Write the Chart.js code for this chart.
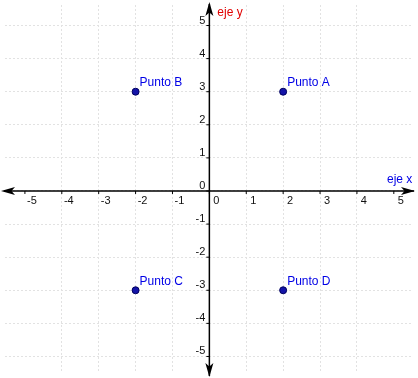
<!DOCTYPE html>
<html>
<head>
<meta charset="utf-8">
<script src="https://cdn.jsdelivr.net/npm/chart.js@4"></script>
<style>
  html, body { margin: 0; padding: 0; background: #fff; }
  #wrap { width: 418px; height: 378px; }
</style>
</head>
<body>
<div id="wrap"><canvas id="plano"></canvas></div>
<script>
// puntos del plano
const nombres = ['Punto A', 'Punto B', 'Punto C', 'Punto D'];
const puntosX = [2, -2, -2, 2];
const puntosY = [3, 3, -3, -3];

// marcas de los ejes
const ticksX = [-5, -4, -3, -2, -1, 0, 1, 2, 3, 4, 5];
const ticksY = [-5, -4, -3, -2, -1, 0, 1, 2, 3, 4, 5];
const etiquetasX = ['-5', '-4', '-3', '-2', '-1', '0', '1', '2', '3', '4', '5'];
const etiquetasY = ['-5', '-4', '-3', '-2', '-1', '0', '1', '2', '3', '4', '5'];

const tituloX = 'eje x';
const tituloY = 'eje y';

function arrow(ctx, x, y, dx, dy) {
  // triangle pointing in (dx, dy)
  const len = 14, half = 4;
  const px = -dy, py = dx;
  ctx.beginPath();
  ctx.moveTo(x, y);
  ctx.lineTo(x - dx * len + px * half, y - dy * len + py * half);
  ctx.lineTo(x - dx * len * 0.75, y - dy * len * 0.75);
  ctx.lineTo(x - dx * len - px * half, y - dy * len - py * half);
  ctx.closePath();
  ctx.fill();
}

const ejes = {
  id: 'ejes',
  beforeDatasetsDraw(chart) {
    const ctx = chart.ctx;
    const sx = chart.scales.x, sy = chart.scales.y;
    const ox = sx.getPixelForValue(0), oy = sy.getPixelForValue(0);
    const W = chart.width, H = chart.height;
    ctx.save();
    ctx.strokeStyle = '#000';
    ctx.fillStyle = '#000';
    ctx.lineWidth = 1.5;
    ctx.beginPath();
    ctx.moveTo(4, oy); ctx.lineTo(W - 4, oy);
    ctx.moveTo(ox, 4); ctx.lineTo(ox, H - 2);
    ctx.stroke();
    arrow(ctx, 1, oy, -1, 0);
    arrow(ctx, W - 3, oy, 1, 0);
    arrow(ctx, ox, 2, 0, -1);
    arrow(ctx, ox, H - 1, 0, 1);

    // marcas y numeros
    ctx.lineWidth = 1;
    ctx.font = '11px "Liberation Sans", Arial, sans-serif';
    ctx.fillStyle = '#111';
    ticksX.forEach((v, i) => {
      const x = sx.getPixelForValue(v);
      ctx.beginPath(); ctx.moveTo(x, oy); ctx.lineTo(x, oy + 3); ctx.stroke();
      ctx.textAlign = 'center'; ctx.textBaseline = 'middle';
      ctx.fillText(etiquetasX[i], x + 7, oy + 10);
    });
    ticksY.forEach((v, i) => {
      const y = sy.getPixelForValue(v);
      ctx.beginPath(); ctx.moveTo(ox - 3, y); ctx.lineTo(ox, y); ctx.stroke();
      ctx.textAlign = 'right'; ctx.textBaseline = 'middle';
      ctx.fillText(etiquetasY[i], ox - 4, y - 5);
    });

    ctx.font = '12px "Liberation Sans", Arial, sans-serif';
    ctx.textAlign = 'left';
    ctx.fillStyle = '#e00000';
    ctx.fillText(tituloY, ox + 8, 13);
    ctx.fillStyle = '#0000e6';
    ctx.fillText(tituloX, W - 31, oy - 11);
    ctx.restore();
  },
  afterDatasetsDraw(chart) {
    const ctx = chart.ctx;
    const meta = chart.getDatasetMeta(0);
    ctx.save();
    ctx.font = '12px "Liberation Sans", Arial, sans-serif';
    ctx.fillStyle = '#0000e6';
    ctx.textAlign = 'left';
    ctx.textBaseline = 'middle';
    meta.data.forEach((p, i) => {
      ctx.fillText(nombres[i], p.x + 4, p.y - 9);
    });
    ctx.restore();
  }
};

const soloEnteros = s => { s.ticks = s.ticks.filter(t => Number.isInteger(t.value)); };

new Chart(document.getElementById('plano'), {
  type: 'scatter',
  data: {
    datasets: [{
      data: puntosX.map((x, i) => ({ x: x, y: puntosY[i] })),
      backgroundColor: '#1414a8',
      borderColor: '#00005e',
      borderWidth: 1,
      pointRadius: 3.5
    }]
  },
  options: {
    responsive: true,
    maintainAspectRatio: false,
    animation: false,
    layout: { padding: 0 },
    plugins: { legend: { display: false }, tooltip: { enabled: false } },
    scales: {
      x: {
        type: 'linear', min: -5.54, max: 5.52,
        afterBuildTicks: soloEnteros,
        ticks: { display: false, stepSize: 1 },
        grid: { color: '#e2e2e2', drawTicks: false, tickLength: 0 },
        border: { display: false, dash: [2, 2] }
      },
      y: {
        type: 'linear', min: -5.5, max: 5.62,
        afterBuildTicks: soloEnteros,
        ticks: { display: false, stepSize: 1 },
        grid: { color: '#e2e2e2', drawTicks: false, tickLength: 0 },
        border: { display: false, dash: [2, 2] }
      }
    }
  },
  plugins: [ejes]
});
</script>
</body>
</html>
